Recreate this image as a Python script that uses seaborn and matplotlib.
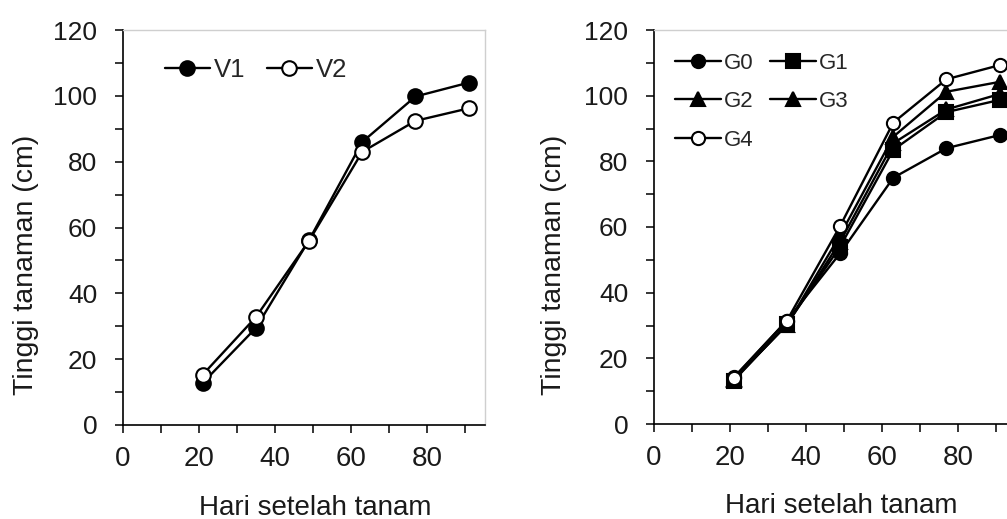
import matplotlib
matplotlib.use("Agg")
import matplotlib.pyplot as plt
from matplotlib.ticker import MultipleLocator
import seaborn as sns
import pandas as pd

# ---- data ----
hst = [21, 35, 49, 63, 77, 91]
V1 = [12.8, 29.5, 56.2, 86.0, 99.8, 104.0]
V2 = [15.3, 32.8, 56.0, 83.0, 92.4, 96.2]
G0 = [14.2, 31.5, 52.0, 75.0, 84.0, 88.0]
G1 = [13.2, 30.5, 54.0, 83.5, 95.0, 98.7]
G2 = [13.5, 30.2, 55.5, 85.5, 95.8, 100.5]
G3 = [13.6, 30.2, 57.5, 87.5, 101.2, 104.2]
G4 = [14.0, 31.5, 60.3, 91.8, 105.0, 109.3]

x_label = "Hari setelah tanam"
y_label = "Tinggi tanaman (cm)"

sns.set_style("ticks")
plt.rcParams['font.family'] = ['Liberation Sans', 'DejaVu Sans']

fig = plt.figure(figsize=(10.07, 5.19), dpi=100)
axL = fig.add_axes([123/1007, 1-425/519, 362/1007, 395/519])
axR = fig.add_axes([654/1007, 1-424/519, 362/1007, 394/519])

styles_left = [
    ("V1", V1, dict(marker="o", markerfacecolor="black", markeredgecolor="black")),
    ("V2", V2, dict(marker="o", markerfacecolor="white", markeredgecolor="black")),
]
styles_right = [
    ("G0", G0, dict(marker="o", markerfacecolor="black", markeredgecolor="black")),
    ("G1", G1, dict(marker="s", markerfacecolor="black", markeredgecolor="black")),
    ("G2", G2, dict(marker="^", markerfacecolor="black", markeredgecolor="black")),
    ("G3", G3, dict(marker="^", markerfacecolor="black", markeredgecolor="black")),
    ("G4", G4, dict(marker="o", markerfacecolor="white", markeredgecolor="black")),
]

def draw(ax, series, ms):
    for name, vals, kw in series:
        df = pd.DataFrame({"x": hst, "y": vals})
        sns.lineplot(data=df, x="x", y="y", ax=ax, color="black", linewidth=1.7,
                     markersize=ms, markeredgewidth=1.5, label=name, **kw)

draw(axL, styles_left, 10.5)
draw(axR, styles_right, 9.5)

for ax in (axL, axR):
    ax.set_xlim(0, 95.3)
    ax.set_ylim(0, 120)
    ax.xaxis.set_major_locator(MultipleLocator(20))
    ax.xaxis.set_minor_locator(MultipleLocator(10))
    ax.yaxis.set_major_locator(MultipleLocator(20))
    ax.yaxis.set_minor_locator(MultipleLocator(10))
    ax.tick_params(which="both", direction="out", length=6, width=1.1, color="black")
    ax.tick_params(axis="y", which="major", labelsize=19, pad=12.5, labelcolor="#1a1a1a")
    ax.tick_params(axis="x", which="major", labelsize=20, pad=9, labelcolor="#1a1a1a")
    for s in ("left", "bottom"):
        ax.spines[s].set_color("black")
        ax.spines[s].set_linewidth(1.2)
    for s in ("top", "right"):
        ax.spines[s].set_visible(True)
        ax.spines[s].set_color("#cfcfcf")
        ax.spines[s].set_linewidth(1.0)
    ax.set_xlabel(x_label, fontsize=20, color="#1a1a1a")
    ax.set_ylabel(y_label, fontsize=20.5, color="#1a1a1a")

axL.xaxis.set_label_coords(0.530, -0.176)
axL.yaxis.set_label_coords(-0.232, 0.405)
axR.xaxis.set_label_coords(0.517, -0.176)
axR.yaxis.set_label_coords(-0.240, 0.405)

# legends
hL, lL = axL.get_legend_handles_labels()
axL.legend(hL, lL, ncol=2, loc="upper left", bbox_to_anchor=(0.115, 0.93),
           frameon=False, fontsize=18.5, handlelength=1.75, handletextpad=0.15,
           columnspacing=0.85, borderpad=0, borderaxespad=0, markerscale=1.0)

hR, lR = axR.get_legend_handles_labels()
order = [0, 2, 4, 1, 3]
axR.legend([hR[i] for i in order], [lR[i] for i in order], ncol=2, loc="upper left",
           bbox_to_anchor=(0.058, 0.942), frameon=False, fontsize=16,
           handlelength=2.05, handletextpad=0.15, columnspacing=0.75,
           labelspacing=0.78, borderpad=0, borderaxespad=0)

fig.savefig("out.png", dpi=100)
